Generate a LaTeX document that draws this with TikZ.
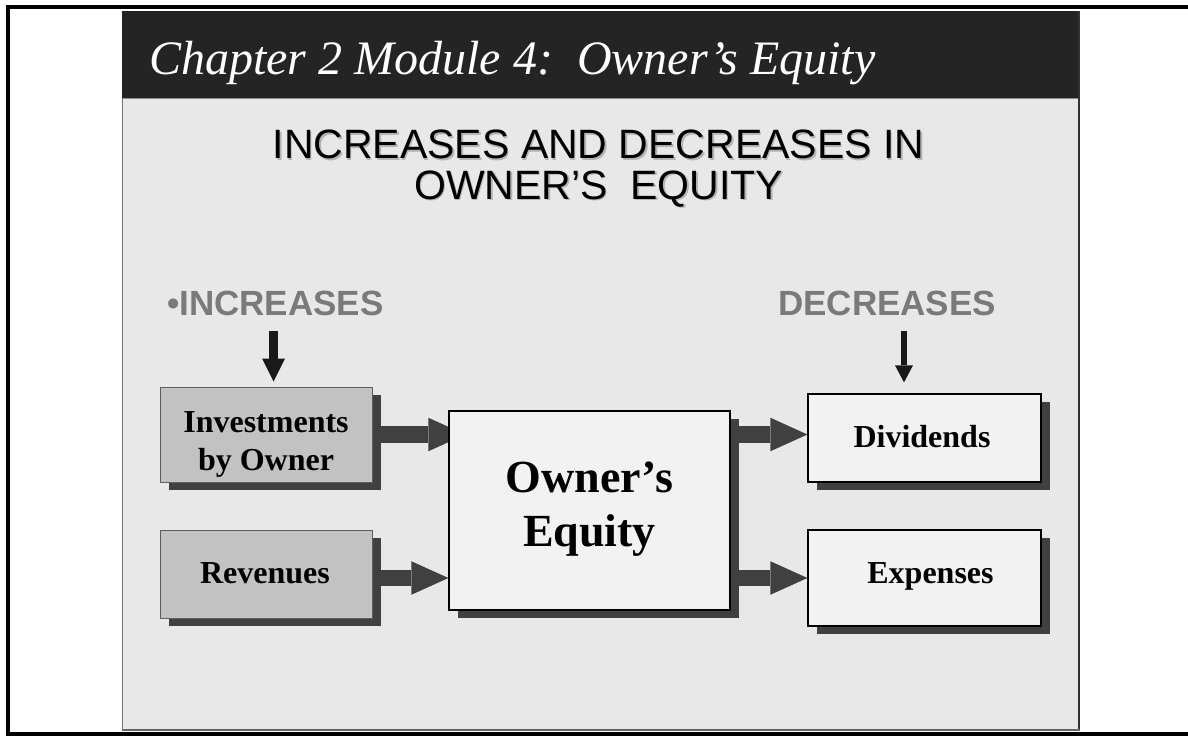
\documentclass[tikz,border=0pt]{standalone}
\usepackage{fontspec}
\setmainfont{Liberation Serif}
\setsansfont{Liberation Sans}
\usetikzlibrary{arrows.meta,shadows}

\definecolor{headerdark}{HTML}{242424}
\definecolor{panelgrey}{HTML}{E8E8E8}
\definecolor{shadowgrey}{HTML}{404040}
\definecolor{inboxfill}{HTML}{C2C2C2}
\definecolor{outboxfill}{HTML}{F2F2F2}
\definecolor{labelgrey}{HTML}{7A7A7A}
\definecolor{subshadow}{HTML}{B4B4B4}

\pgfdeclarelayer{backdrop}
\pgfdeclarelayer{arrowlayer}
\pgfsetlayers{backdrop,arrowlayer,main}

\tikzset{
  boxshadow/.style={drop shadow={shadow xshift=8.5pt,shadow yshift=-8pt,fill=shadowgrey,opacity=1}},
  inbox/.style={rectangle, inner sep=0pt, fill=inboxfill, draw=shadowgrey!85, line width=1pt, boxshadow},
  outbox/.style={rectangle, inner sep=0pt, fill=outboxfill, draw=black, line width=1.2pt, boxshadow},
  boxtext/.style={anchor=base, inner sep=0pt, font=\bfseries\fontsize{32}{38}\selectfont},
  bigtext/.style={anchor=base, inner sep=0pt, font=\bfseries\fontsize{46}{54}\selectfont},
  sidelabel/.style={anchor=base west, inner sep=0pt, text=labelgrey, font=\sffamily\bfseries\fontsize{35}{40}\selectfont},
  subtitle/.style={anchor=base west, inner sep=0pt, font=\sffamily\fontsize{41}{46}\selectfont},
  flowarrow/.style={shadowgrey, line width=16.5pt, -{Triangle[length=37pt,width=33.5pt,line width=0pt]}},
  pointer/.style={black!90, line width=#1}
}

\begin{document}
\begin{tikzpicture}[x=1pt,y=-1pt]
\useasboundingbox (0,0) rectangle (1188,736);

% slide panel and title bar
\begin{pgfonlayer}{backdrop}
  \fill[white] (0,0) rectangle (1188,736);
  \fill[panelgrey] (122,11) rectangle (1080,731);
  \fill[headerdark] (122,11) rectangle (1080,99);
  \draw[black!45, line width=1pt] (122,98.5) -- (1080,98.5);
  \draw[black!55, line width=1.2pt] (122.6,99) -- (122.6,730);
  \draw[black!80, line width=2pt] (1079,11) -- (1079,731);
  \draw[black!60, line width=2pt] (122,730) -- (1080,730);
  \draw[black, line width=4pt] (1195,7) -- (8,7) -- (8,734) -- (1195,734);
\end{pgfonlayer}

% title
\node[anchor=base west, inner sep=0pt, text=white,
      font=\itshape\fontsize{48}{54}\selectfont] (title) at (149,74)
  {Chapter 2 Module 4:\ \ Owner’s Equity};

% heading (with soft shadow)
\node[subtitle, text=subshadow] (sub1s) at (274,160) {INCREASES AND DECREASES IN};
\node[subtitle, text=subshadow] (sub2s) at (415.5,200.5) {OWNER’S\ \ EQUITY};
\node[subtitle] (sub1) at (272.5,158.5) {INCREASES AND DECREASES IN};
\node[subtitle] (sub2) at (414,199) {OWNER’S\ \ EQUITY};

% side labels
\node[sidelabel] (incr) at (167,315) {•INCREASES};
\node[sidelabel] (decr) at (778,315) {DECREASES};

% boxes
\node[inbox, minimum width=212pt, minimum height=95pt] (inv) at (266,434.5) {};
\node[inbox, minimum width=212pt, minimum height=88pt] (rev) at (266,574) {};
\node[outbox, minimum width=281pt, minimum height=199pt] (oe) at (589.5,510.5) {};
\node[outbox, minimum width=233pt, minimum height=88pt] (div) at (924.5,438) {};
\node[outbox, minimum width=233pt, minimum height=96pt] (exp) at (924.5,578) {};

% box texts
\node[boxtext] (invA) at (266,432) {Investments};
\node[boxtext] (invB) at (266,470) {by Owner};
\node[boxtext] (revT) at (265,583) {Revenues};
\node[bigtext] (oeA) at (589.5,492) {Owner’s};
\node[bigtext] (oeB) at (589.5,546) {Equity};
\node[boxtext] (divT) at (922,447) {Dividends};
\node[boxtext] (expT) at (930.5,583) {Expenses};

% rows of the flow arrows
\coordinate (uprow) at (0,434.5);
\coordinate (lowrow) at (0,578);
\coordinate (incstart) at (273.5,331);
\coordinate (decstart) at (904,331);

\begin{pgfonlayer}{arrowlayer}
  \draw[flowarrow] (inv.east) -- ([xshift=17pt]oe.west |- uprow);
  \draw[flowarrow] (rev.east |- lowrow) -- (oe.west |- lowrow);
  \draw[flowarrow] (oe.east |- uprow) -- (div.west |- uprow);
  \draw[flowarrow] (oe.east |- lowrow) -- (exp.west |- lowrow);
\end{pgfonlayer}

% pointers from the side labels
\draw[pointer=9pt, -{Triangle[length=23pt,width=23pt,line width=0pt]}, shorten >=5pt]
  (incstart) -- (incstart |- inv.north);
\draw[pointer=6pt, -{Triangle[length=17pt,width=18pt,line width=0pt]}, shorten >=11pt]
  (decstart) -- (decstart |- div.north);
\end{tikzpicture}
\end{document}
